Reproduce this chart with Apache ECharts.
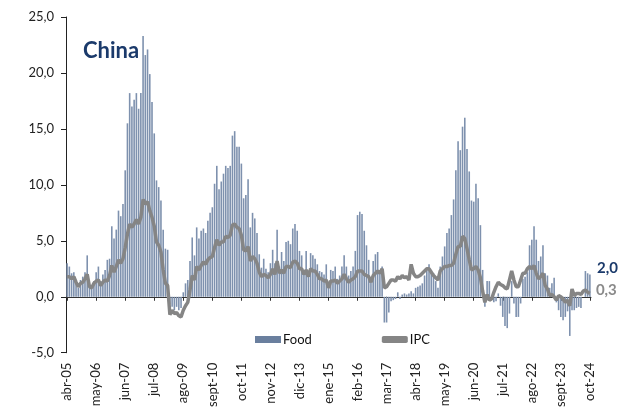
<!DOCTYPE html>
<html>
<head>
<meta charset="utf-8">
<script src="https://cdn.jsdelivr.net/npm/echarts@6/dist/echarts.min.js"></script>
<style>
  html, body { margin: 0; padding: 0; background: #fff; }
  #main { width: 629px; height: 410px; }
</style>
</head>
<body>
<div id="main"></div>
<script>
// meses (abr-05 .. oct-24)
let meses = ['ene', 'feb', 'mar', 'abr', 'may', 'jun', 'jul', 'ago', 'sept', 'oct', 'nov', 'dic']
let startYear = 2005, startMonth = 3 // abr
let endYear = 2024, endMonth = 9     // oct

// Food, % a/a
let food = [
  3.0, 2.7, 2.1, 2.2, 1.4, 0.8, 1.5, 1.8, 2.2,                 // 2005 abr-dic
  3.7, 1.1, 0.8, 1.4, 2.2, 2.7, 1.4, 2.0, 2.4, 3.3, 3.4, 6.3,   // 2006
  5.2, 6.0, 7.7, 7.2, 8.3, 11.3, 15.5, 18.2, 17.0, 17.6, 18.2, 16.8, // 2007
  18.2, 23.3, 21.6, 22.1, 19.9, 17.4, 14.6, 10.4, 9.8, 8.6, 6.0, 4.3, // 2008
  4.2, -0.7, -0.9, -1.2, -0.9, -1.2, -1.0, 0.4, 1.2, 1.5, 3.2, 5.3, // 2009
  3.7, 6.2, 5.2, 5.9, 6.1, 5.7, 6.8, 7.5, 8.0, 10.1, 11.7, 9.6,  // 2010
  10.3, 11.0, 11.7, 11.5, 11.7, 14.4, 14.8, 13.4, 13.4, 11.9, 8.8, 9.1, // 2011
  10.5, 6.2, 7.5, 7.0, 5.7, 3.8, 2.6, 3.4, 2.5, 2.2, 3.0, 4.2,   // 2012
  3.0, 6.0, 2.7, 4.0, 3.2, 4.9, 5.0, 4.7, 6.1, 6.5, 5.9, 4.1,    // 2013
  3.7, 2.4, 4.1, 2.0, 3.9, 3.7, 3.4, 2.9, 2.3, 2.2, 2.0, 2.9,    // 2014
  1.1, 2.4, 2.3, 2.7, 1.6, 1.9, 2.7, 3.7, 2.7, 1.9, 2.3, 2.7,    // 2015
  4.1, 7.3, 7.6, 7.4, 5.9, 4.6, 3.3, 1.3, 3.2, 3.8, 4.0, 2.4,    // 2016
  2.7, -2.3, -2.3, -1.4, -0.4, -0.3, -0.2, 0.4, -0.2, 0.2, 0.3, 0.2, // 2017
  0.3, 0.5, 0.3, 0.8, 0.9, 1.0, 1.2, 1.9, 2.6, 2.9, 2.4, 2.1,    // 2018
  1.4, 0.8, 2.7, 3.6, 4.5, 5.7, 6.1, 7.3, 8.7, 11.3, 13.9, 13.1, // 2019
  15.2, 16.0, 13.2, 11.2, 8.6, 8.5, 10.1, 8.8, 6.4, 2.4, -0.9, 1.4, // 2020
  1.4, -0.2, -0.5, -0.4, 0.3, -0.8, -1.8, -2.6, -2.8, -1.5, 1.4, -0.6, // 2021
  -1.8, -1.8, -0.6, 1.6, 1.8, 2.2, 4.6, 5.1, 6.3, 5.1, 3.2, 3.6, // 2022
  4.6, 2.1, 1.9, 0.8, 1.2, 1.7, -0.5, -1.2, -1.8, -2.1, -1.8, -1.3, // 2023
  -3.5, -1.2, -1.2, -1.0, -0.9, -1.0, 0.0, 2.3, 2.1, 2.0        // 2024 ene-oct
]

// IPC general, % a/a
let ipc = [
  1.8, 1.8, 1.6, 1.8, 1.3, 0.9, 1.2, 1.3, 1.6,                  // 2005 abr-dic
  2.0, 0.9, 0.8, 1.2, 1.4, 1.5, 1.0, 1.3, 1.5, 1.4, 1.9, 2.8,   // 2006
  2.2, 2.7, 3.3, 3.0, 3.4, 4.4, 5.6, 6.5, 6.2, 6.5, 6.9, 6.5,   // 2007
  7.1, 8.7, 8.3, 8.5, 7.7, 7.1, 6.3, 4.9, 4.6, 4.0, 2.4, 1.2,   // 2008
  1.0, -1.6, -1.2, -1.5, -1.4, -1.7, -1.8, -1.2, -0.8, -0.5, 0.6, 1.9, // 2009
  1.5, 2.7, 2.4, 2.8, 3.1, 2.9, 3.3, 3.5, 3.6, 4.4, 5.1, 4.6,   // 2010
  4.9, 4.9, 5.4, 5.3, 5.5, 6.4, 6.5, 6.2, 6.1, 5.5, 4.2, 4.1,   // 2011
  4.5, 3.2, 3.6, 3.4, 3.0, 2.2, 1.8, 2.0, 1.9, 1.7, 2.0, 2.5,   // 2012
  2.0, 3.2, 2.1, 2.4, 2.1, 2.7, 2.7, 2.6, 3.1, 3.2, 3.0, 2.5,   // 2013
  2.5, 2.0, 2.4, 1.8, 2.5, 2.3, 2.3, 2.0, 1.6, 1.6, 1.4, 1.5,   // 2014
  0.8, 1.4, 1.4, 1.5, 1.2, 1.4, 1.6, 2.0, 1.6, 1.3, 1.5, 1.6,   // 2015
  1.8, 2.3, 2.3, 2.3, 2.0, 1.9, 1.8, 1.3, 1.9, 2.1, 2.3, 2.1,   // 2016
  2.5, 0.8, 0.9, 1.2, 1.5, 1.5, 1.4, 1.8, 1.6, 1.9, 1.7, 1.8,   // 2017
  1.5, 2.9, 2.1, 1.8, 1.8, 1.9, 2.1, 2.3, 2.5, 2.5, 2.2, 1.9,   // 2018
  1.7, 1.5, 2.3, 2.5, 2.7, 2.7, 2.8, 2.8, 3.0, 3.8, 4.5, 4.5,   // 2019
  5.4, 5.2, 4.3, 3.3, 2.4, 2.5, 2.7, 2.4, 1.7, 0.5, -0.5, 0.2,  // 2020
  -0.3, -0.2, 0.4, 0.9, 1.3, 1.1, 1.0, 0.8, 0.7, 1.5, 2.3, 1.5, // 2021
  0.9, 0.9, 1.5, 2.1, 2.1, 2.5, 2.7, 2.5, 2.8, 2.1, 1.6, 1.8,   // 2022
  2.1, 1.0, 0.7, 0.1, 0.2, 0.0, -0.3, 0.1, 0.0, -0.2, -0.5, -0.3, // 2023
  -0.8, 0.7, 0.1, 0.3, 0.3, 0.2, 0.5, 0.6, 0.4, 0.3             // 2024 ene-oct
]

// eje Y
let yMin = -5, yMax = 25, yStep = 5

// construir categorias "abr-05" ...
let fechas = []
for (let y = startYear; y <= endYear; y++) {
  let m0 = y === startYear ? startMonth : 0
  let m1 = y === endYear ? endMonth : 11
  for (let m = m0; m <= m1; m++) {
    fechas.push(meses[m] + '-' + String(y).slice(2))
  }
}

let coma = function (v) { return v.toFixed(1).replace('.', ',') }
let FONT = 'Lato, "Open Sans", sans-serif'
let last = food.length - 1

// ultimo valor de Food con etiqueta
let foodData = food.map(function (v, i) {
  if (i !== last) return v
  return {
    value: v,
    label: {
      show: true, position: [8, -14],
      formatter: function (p) { return coma(p.value) },
      color: '#1b3a6b', fontSize: 15, fontWeight: 'bold', fontFamily: FONT
    }
  }
})

let chart = echarts.init(document.getElementById('main'), null, { renderer: 'canvas' })
chart.setOption({
  backgroundColor: '#fff',
  animation: false,
  title: {
    text: 'China', left: 78, top: 35,
    textStyle: { color: '#1b3a6b', fontSize: 22, fontWeight: 'bold', fontFamily: FONT }
  },
  legend: {
    left: 250, top: 328, itemGap: 70,
    itemWidth: 26, itemHeight: 7,
    textStyle: { color: '#111', fontSize: 13, fontFamily: FONT, padding: [0, 0, 0, -3] },
    data: [
      { name: 'Food', icon: 'rect', itemStyle: { color: '#6a7f9e' } },
      { name: 'IPC', icon: 'roundRect', itemStyle: { color: '#858585' } }
    ]
  },
  grid: { left: 66, right: 38, top: 17, bottom: 57 },
  xAxis: [
    {
      // eje en cero: linea y marcas
      type: 'category', data: fechas, boundaryGap: true,
      axisLine: { onZero: true, lineStyle: { color: '#333', width: 1 } },
      axisTick: { show: true, interval: 12, alignWithLabel: true, length: 4, lineStyle: { color: '#333' } },
      axisLabel: { show: false }
    },
    {
      // solo etiquetas abajo
      type: 'category', data: fechas, boundaryGap: true, position: 'bottom',
      axisLine: { show: false, onZero: false },
      axisTick: { show: false },
      axisLabel: {
        interval: 12, rotate: 90, margin: 10,
        color: '#222', fontSize: 13, fontFamily: FONT
      }
    }
  ],
  yAxis: {
    type: 'value', min: yMin, max: yMax, interval: yStep,
    axisLine: { show: true, lineStyle: { color: '#222' } },
    axisTick: { show: true, length: 5, lineStyle: { color: '#222' } },
    splitLine: { show: false },
    axisLabel: { formatter: coma, color: '#222', fontSize: 13, fontFamily: FONT, margin: 12 }
  },
  series: [
    {
      name: 'Food', type: 'bar', xAxisIndex: 0, data: foodData,
      barWidth: 1.6,
      itemStyle: { color: '#7e91ae' }
    },
    {
      name: 'IPC', type: 'line', xAxisIndex: 0, data: ipc,
      symbol: 'none', z: 5,
      lineStyle: { color: '#858585', width: 3.5 },
      itemStyle: { color: '#858585' },
      endLabel: {
        show: true, distance: 6, offset: [0, -3],
        formatter: function (p) { return coma(p.value) },
        color: '#8a8a8a', fontSize: 15, fontWeight: 'bold', fontFamily: FONT
      }
    }
  ]
})
</script>
</body>
</html>
